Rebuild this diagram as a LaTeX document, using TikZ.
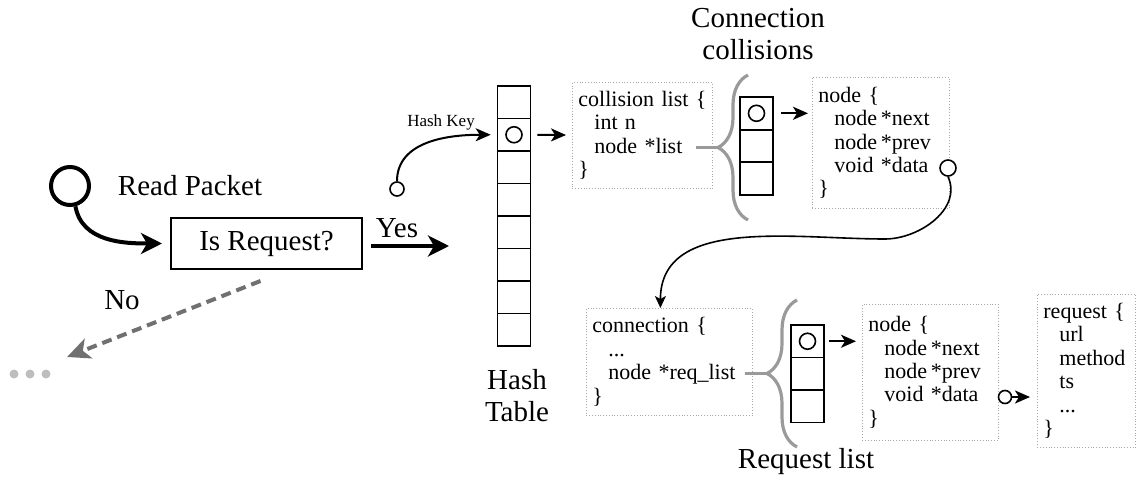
\documentclass[tikz,border=0pt]{standalone}
\usepackage{fontspec}
\setmainfont{Liberation Serif}
\usetikzlibrary{arrows.meta}
\usetikzlibrary{decorations.pathreplacing}
\usepackage{xcolor}

\definecolor{boxgray}{HTML}{A8A8A8}
\definecolor{bracegray}{HTML}{9A9A9A}
\definecolor{nogray}{HTML}{707070}
\definecolor{dotgray}{HTML}{BDBDBD}

\newcommand{\ind}{\hspace*{16pt}}

\begin{document}
\begin{tikzpicture}[x=1pt, y=1pt,
  lbl/.style={font=\fontsize{29}{32}\selectfont, inner sep=0pt},
  cell/.style={draw, line width=1.6pt, minimum width=33pt, minimum height=32.5pt, inner sep=0pt},
  ptr/.style={draw, circle, fill=white, line width=1.6pt, minimum size=16pt, inner sep=0pt},
  codebox/.style={draw=boxgray, dotted, line width=0.8pt, anchor=north west, align=left,
    inner xsep=6pt, inner ysep=0pt, font=\fontsize{22}{23.4}\selectfont},
  bracestroke/.style={draw=bracegray, line width=3.2pt},
  thickarrow/.style={line width=4pt, -{Stealth[length=21pt, width=21pt, inset=6pt]}},
  midarrow/.style={line width=2pt, -{Stealth[length=15pt, width=13pt, inset=4pt]}},
  thinarrow/.style={line width=1.6pt, -{Stealth[length=12pt, width=11pt, inset=3pt]}}]
\useasboundingbox (0,0) rectangle (1137,-486);

% packet in, request test
\node[draw, circle, line width=4pt, minimum size=38pt, inner sep=0pt] (start) at (70,-186) {};
\node[lbl] (readlbl) at (190,-186) {Read Packet};
\node[draw, line width=2pt, minimum width=191pt, minimum height=51pt, lbl] (isreq) at (266.5,-243.5) {Is Request?};
\draw[thickarrow] (start.-75) to[out=-80, in=180] ([xshift=-8pt]isreq.west);

\coordinate (yesend) at (449,-246);
\draw[thickarrow] ([xshift=8pt, yshift=-2.5pt]isreq.east) -- (yesend);
\node[lbl] (yeslbl) at (397,-228) {Yes};

\node[lbl] (nolbl) at (122,-300) {No};
\coordinate (noend) at (67,-357);
\draw[line width=4pt, nogray, dash pattern=on 10pt off 6pt,
  -{Stealth[length=23pt, width=21pt, inset=6pt]}] ([xshift=-6pt, yshift=-11pt]isreq.south) -- (noend);
\foreach \x in {14,30,46}
  \fill[dotgray] (\x,-374) circle (4.5pt);

% hash table
\foreach \i in {1,...,8}
  \node[cell] (h\i) at (514,{-102.25-(\i-1)*32.5}) {};
\node[ptr] (hcirc) at (h2) {};
\node[lbl, align=center] (htlbl) at (517,-396) {Hash\\Table};

\node[ptr, minimum size=14pt] (hk) at (397,-189) {};
\draw[midarrow] (hk.north) to[out=90, in=180] ([xshift=-6pt]h2.west);
\node[font=\fontsize{17}{19}\selectfont, inner sep=0pt] (hklbl) at (441,-122) {Hash Key};

% collision list
\node[codebox, text width=128pt, minimum height=106pt] (coll) at (572,-82)
  {collision list \{\\ \ind int n\\ \ind node *list\\ \}};
\draw[midarrow, shorten <=6pt, shorten >=6pt] (h2) -- (coll);

\coordinate (cbtip) at (718,-147.5);
\draw[bracestroke] ([xshift=-17pt]coll.east |- cbtip) -- (cbtip);
\draw[bracestroke, decorate, decoration={brace, amplitude=30pt}] (748,-220) -- (748,-75);
\node[lbl, align=center] (colltitle) at (758,-34) {Connection\\collisions};

\foreach \i in {1,2,3}
  \node[cell] (c\i) at (756.5,{-113.3-(\i-1)*32.7}) {};
\node[ptr] (ccirc) at (c1) {};

\node[codebox, text width=125pt, minimum height=131pt] (nd1) at (812,-77)
  {node \{\\ \ind node\,*next\\ \ind node\,*prev\\ \ind void *data\\ \}};
\draw[midarrow] ([xshift=7pt]c1.east) -- ([xshift=-4pt]c1.east -| nd1.west);
\node[ptr] (d1) at (948,-168) {};

% connection and its request list
\node[codebox, text width=154pt, minimum height=107pt] (conn) at (586,-308)
  {connection \{\\ \ind ...\\ \ind node *req\_list\\ \}};

% data pointer down to the connection
\coordinate (bend) at (885,-239);
\draw[thinarrow] (d1.south) to[out=-65, in=0] (bend) to[out=180, in=90] ([xshift=-9pt]conn.north);

\coordinate (rbtip) at (767,-373.5);
\draw[bracestroke] ([xshift=-8pt]conn.east |- rbtip) -- (rbtip);
\draw[bracestroke, decorate, decoration={brace, amplitude=30pt}] (797,-447) -- (797,-300);
\node[lbl] (reqtitle) at (806,-462) {Request list};

\foreach \i in {1,2,3}
  \node[cell] (r\i) at (807.5,{-341.25-(\i-1)*32.5}) {};
\node[ptr] (rcirc) at (r1) {};

\node[codebox, text width=124pt, minimum height=136pt] (nd2) at (862,-304)
  {node \{\\ \ind node\,*next\\ \ind node\,*prev\\ \ind void *data\\ \}};
\draw[midarrow] ([xshift=4pt]r1.east) -- ([xshift=-6pt]r1.east -| nd2.west);
\node[ptr, minimum size=13pt] (d2) at (1005,-397) {};

\node[codebox, text width=86pt, minimum height=153pt] (req) at (1037,-294)
  {request \{\\ \ind url\\ \ind method\\ \ind ts\\ \ind ...\\ \}};
\draw[midarrow] (d2.east) -- ([xshift=-7pt]d2.east -| req.west);
\end{tikzpicture}
\end{document}
